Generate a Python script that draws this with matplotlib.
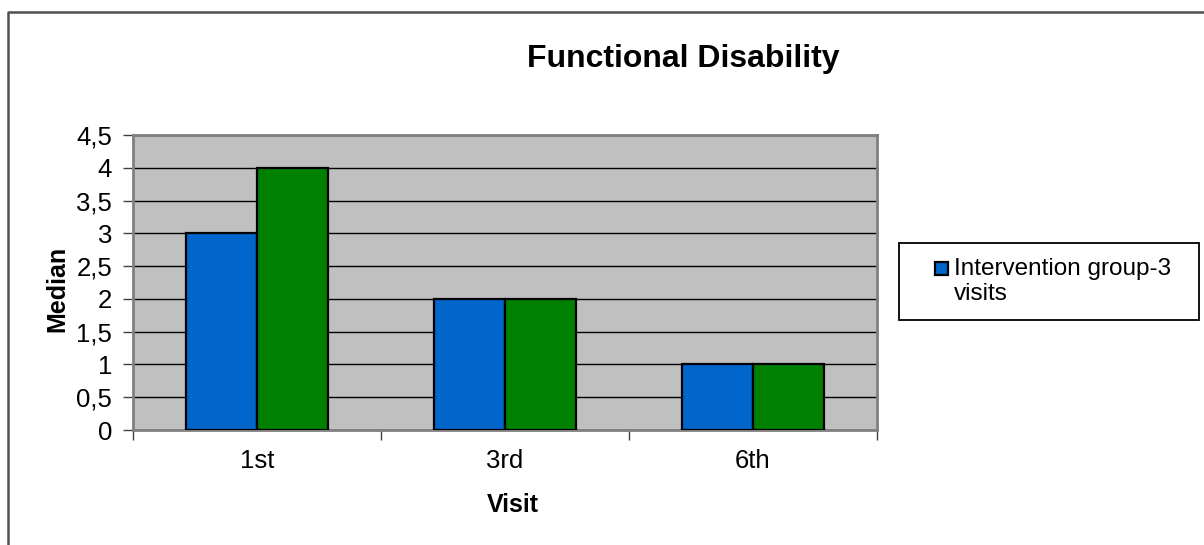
import numpy as np
import matplotlib
matplotlib.use("Agg")
import matplotlib.pyplot as plt
from matplotlib.lines import Line2D
from matplotlib.patches import Rectangle

plt.rcParams['font.family'] = ['Liberation Sans', 'DejaVu Sans']

visits = ["1st", "3rd", "6th"]
group_3_visits = [3, 2, 1]
group_other = [4, 2, 1]
y_ticks = [0, 0.5, 1, 1.5, 2, 2.5, 3, 3.5, 4, 4.5]
y_tick_labels = ["0", "0,5", "1", "1,5", "2", "2,5", "3", "3,5", "4", "4,5"]
legend_label = "Intervention group-3\nvisits"

W, H = 1204, 545
fig = plt.figure(figsize=(W / 100, H / 100), dpi=100)
ax = fig.add_axes([133 / W, 1 - 430 / H, (877 - 133) / W, (430 - 135) / H])

x = np.arange(len(visits))
bw = 0.286
ax.bar(x - bw / 2, group_3_visits, bw, color="#0066CC", edgecolor="black",
       linewidth=1.6, zorder=3)
ax.bar(x + bw / 2, group_other, bw, color="#008000", edgecolor="black",
       linewidth=1.6, zorder=3)

ax.set_facecolor("#C0C0C0")
ax.set_xlim(-0.5, 2.5)
ax.set_ylim(0, 4.5)
ax.set_yticks(y_ticks)
ax.set_yticklabels(y_tick_labels, fontsize=18.5)
ax.yaxis.grid(True, color="black", linewidth=1)
ax.set_axisbelow(True)

# category boundaries carry the ticks, labels sit in the middle
ax.set_xticks(np.arange(-0.5, 3, 1))
ax.set_xticklabels([])
ax.set_xticks(x, minor=True)
ax.set_xticklabels(visits, minor=True, fontsize=18.5)
ax.tick_params(axis="x", which="minor", length=0, pad=14)
ax.tick_params(axis="x", which="major", length=7, width=1, color="#404040")
ax.tick_params(axis="y", length=7, width=1, color="#404040", pad=8)

for s in ax.spines.values():
    s.set_color("#808080")
    s.set_linewidth(2)

fig.text(683 / W, 1 - 67 / H, "Functional Disability", fontsize=23,
         fontweight="bold", ha="center", va="baseline")
fig.text(513 / W, 1 - 505 / H, "Visit", fontsize=18, fontweight="bold",
         ha="center", va="center")
fig.text(57 / W, 1 - 289 / H, "Median", fontsize=18, fontweight="bold",
         ha="center", va="center", rotation=90)

# legend: box, colour swatch and label
fig.add_artist(Rectangle((899 / W, 1 - 320 / H), 300 / W, 77 / H,
                         transform=fig.transFigure, facecolor="white",
                         edgecolor="black", linewidth=1.3))
fig.add_artist(Rectangle((935 / W, 1 - 275 / H), 13 / W, 13 / H,
                         transform=fig.transFigure, facecolor="#0066CC",
                         edgecolor="black", linewidth=1.6))
fig.text(954 / W, 1 - 258 / H, legend_label, fontsize=17.5, ha="left",
         va="top", linespacing=1.2)

# outer chart border (only top and left visible)
fig.add_artist(Line2D([8 / W, 8 / W, 1], [0, 1 - 12 / H, 1 - 12 / H],
                      transform=fig.transFigure, color="#505050",
                      linewidth=1.8))

fig.savefig("out.png", dpi=100)
